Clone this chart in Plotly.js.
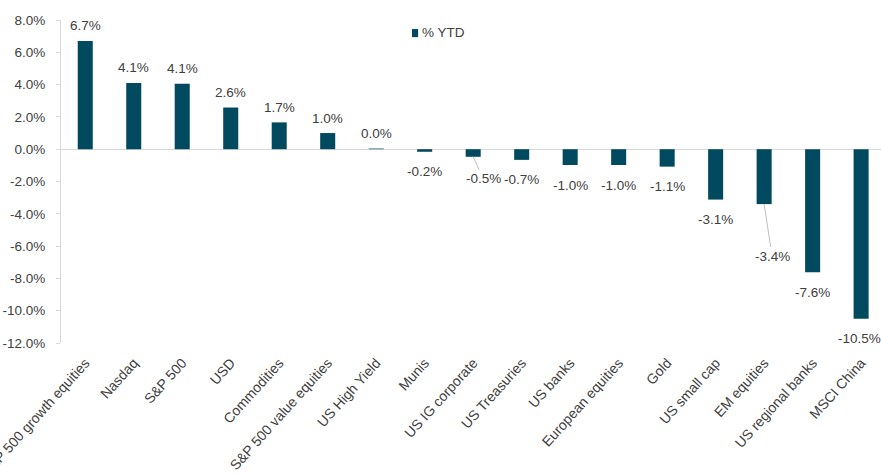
<!DOCTYPE html>
<html>
<head>
<meta charset="utf-8">
<script src="https://cdn.plot.ly/plotly-3.0.1.min.js"></script>
<style>
html, body { margin: 0; padding: 0; background: #ffffff; }
#chart { width: 881px; height: 475px; }
</style>
</head>
<body>
<div id="chart"></div>
<script>
// ---- data ----
const categories = [
  "S&P 500 growth equities", "Nasdaq", "S&P 500", "USD", "Commodities",
  "S&P 500 value equities", "US High Yield", "Munis", "US IG corporate",
  "US Treasuries", "US banks", "European equities", "Gold", "US small cap",
  "EM equities", "US regional banks", "MSCI China"
];
const ytdValues = [6.7, 4.1, 4.06, 2.58, 1.66, 1.0, 0.04, -0.16, -0.47, -0.66, -0.98, -0.98, -1.08, -3.12, -3.4, -7.62, -10.5];
const ytdLabels = ["6.7%", "4.1%", "4.1%", "2.6%", "1.7%", "1.0%", "0.0%", "-0.2%", "-0.5%", "-0.7%", "-1.0%", "-1.0%", "-1.1%", "-3.1%", "-3.4%", "-7.6%", "-10.5%"];
const seriesName = "% YTD";
const yTickVals = [8, 6, 4, 2, 0, -2, -4, -6, -8, -10, -12];
const yTickText = ["8.0%", "6.0%", "4.0%", "2.0%", "0.0%", "-2.0%", "-4.0%", "-6.0%", "-8.0%", "-10.0%", "-12.0%"];

// ---- styling ----
const barColor = "#00495E";
const textColor = "#404040";
const axisGray = "#D9D9D9";
const labelFont = "'Liberation Sans', Arial, sans-serif";
const labelSize = 13.5;
// labels that Excel moved away from their bars (pixel offsets, with leader lines)
const movedLabels = { "US IG corporate": [10, 22], "EM equities": [8, 52] };

const annotations = categories.map((c, i) => {
  const v = ytdValues[i];
  const base = {
    x: c, y: v, xref: "x", yref: "y", text: ytdLabels[i],
    font: { family: labelFont, size: labelSize, color: textColor }
  };
  if (movedLabels[c]) {
    return Object.assign(base, {
      showarrow: true, arrowhead: 0, arrowwidth: 1, arrowcolor: "#BFBFBF",
      ax: movedLabels[c][0], ay: movedLabels[c][1], standoff: 0
    });
  }
  return Object.assign(base, {
    showarrow: false, yanchor: "middle", xanchor: "center",
    yshift: v >= 0 ? 15 : -20,
    xshift: i === categories.length - 1 ? -2 : 0
  });
});

// legend (Excel-style: small square right next to the text)
annotations.push({
  xref: "paper", yref: "paper", x: 0.4378, y: 0.96,
  xanchor: "left", yanchor: "middle", showarrow: false,
  text: seriesName,
  font: { family: labelFont, size: labelSize, color: textColor }
});
const shapes = [{
  type: "rect", xref: "paper", yref: "paper",
  x0: 0.428, x1: 0.4355, y0: 0.947, y1: 0.972,
  fillcolor: barColor, line: { width: 0 }
}];

const trace = {
  type: "bar",
  x: categories,
  y: ytdValues,
  name: seriesName,
  marker: { color: barColor },
  width: 0.31,
  showlegend: false,
  hoverinfo: "skip"
};

const layout = {
  width: 881, height: 475,
  margin: { l: 61, r: 0, t: 20, b: 132, pad: 0 },
  paper_bgcolor: "#ffffff", plot_bgcolor: "#ffffff",
  showlegend: false,
  xaxis: {
    type: "category",
    range: [-0.5, 16.41],
    tickangle: -48,
    tickfont: { family: labelFont, size: 14, color: textColor },
    showline: false, showgrid: false, zeroline: false, ticks: "",
    ticklabelstandoff: 8,
    automargin: false, fixedrange: true
  },
  yaxis: {
    range: [-12, 8],
    tickvals: yTickVals, ticktext: yTickText,
    tickfont: { family: labelFont, size: labelSize, color: textColor },
    showgrid: false,
    zeroline: true, zerolinecolor: axisGray, zerolinewidth: 1,
    showline: true, linecolor: axisGray, linewidth: 1,
    ticks: "outside", ticklen: 4, tickcolor: axisGray,
    ticklabelstandoff: 8,
    automargin: false, fixedrange: true
  },
  annotations: annotations,
  shapes: shapes
};

Plotly.newPlot("chart", [trace], layout, { staticPlot: true, displayModeBar: false });
</script>
</body>
</html>
